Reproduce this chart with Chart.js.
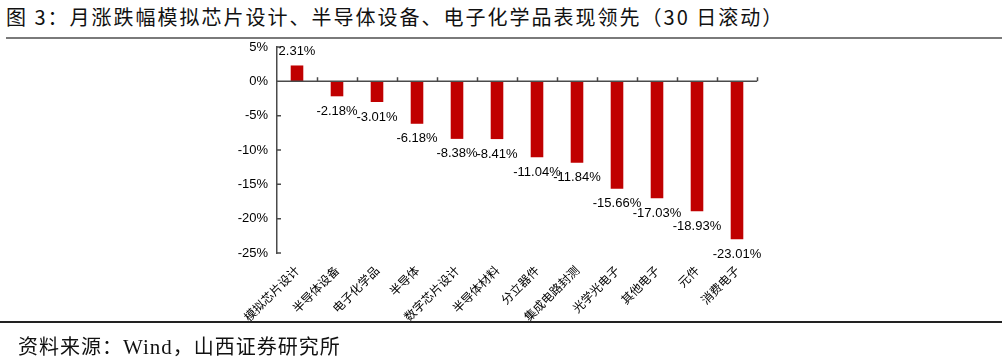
<!DOCTYPE html>
<html>
<head>
<meta charset="utf-8">
<script src="https://cdn.jsdelivr.net/npm/chart.js@4/dist/chart.umd.min.js"></script>
<style>
  html, body { margin: 0; padding: 0; background: #fff; }
  body { width: 1007px; height: 362px; position: relative; overflow: hidden; }
  #title {
    position: absolute; left: 6px; top: 4px;
    font-family: "Noto Sans CJK SC", sans-serif; font-size: 20px; color: #111;
    letter-spacing: 2px; white-space: nowrap; line-height: 26px;
  }
  #topRule { position: absolute; left: 6px; right: 5px; top: 37px; height: 2px; background: #7a7a7a; }
  #bottomRule { position: absolute; left: 0; right: 5px; top: 321px; height: 2px; background: #222; }
  #source {
    position: absolute; left: 18px; top: 333px;
    font-family: "Noto Sans CJK SC", sans-serif; font-size: 20px; color: #111;
    letter-spacing: 1px; white-space: nowrap; line-height: 26px;
  }
  #source .en { font-family: "Liberation Serif", serif; font-size: 21px; }
  #wrap { position: absolute; left: 0; top: 0; width: 1007px; height: 362px; }
</style>
</head>
<body>
<div id="title">图 3：月涨跌幅模拟芯片设计、半导体设备、电子化学品表现领先（30 日滚动）</div>
<div id="topRule"></div>
<div id="wrap"><canvas id="barChart"></canvas></div>
<div id="bottomRule"></div>
<div id="source">资料来源：<span class="en">Wind</span>，山西证券研究所</div>
<script>
// categories and monthly change (%)
const categories = ['模拟芯片设计', '半导体设备', '电子化学品', '半导体', '数字芯片设计', '半导体材料',
  '分立器件', '集成电路封测', '光学光电子', '其他电子', '元件', '消费电子'];
const changes = [2.31, -2.18, -3.01, -6.18, -8.38, -8.41, -11.04, -11.84, -15.66, -17.03, -18.93, -23.01];
const yTicks = [5, 0, -5, -10, -15, -20, -25];

// zero line, inward tick marks and value labels
const decorations = {
  id: 'decorations',
  afterDatasetsDraw(chart) {
    const { ctx, chartArea, scales } = chart;
    const x = scales.x, y = scales.y;
    const y0 = y.getPixelForValue(0);
    ctx.save();
    ctx.strokeStyle = '#4a4a4a';
    ctx.lineWidth = 1.5;
    ctx.beginPath();
    ctx.moveTo(chartArea.left, y0);
    ctx.lineTo(chartArea.right, y0);
    // x ticks at category boundaries, pointing up
    const step = (chartArea.right - chartArea.left) / categories.length;
    for (let i = 1; i <= categories.length; i++) {
      const px = Math.round(chartArea.left + step * i) + 0.5;
      ctx.moveTo(px, y0);
      ctx.lineTo(px, y0 - 4);
    }
    // y ticks pointing right
    yTicks.forEach(v => {
      const py = y.getPixelForValue(v);
      ctx.moveTo(chartArea.left, py);
      ctx.lineTo(chartArea.left + 4, py);
    });
    ctx.stroke();

    ctx.fillStyle = '#000';
    ctx.font = '13px "Liberation Sans", Arial, sans-serif';
    ctx.textAlign = 'center';
    ctx.textBaseline = 'middle';
    const meta = chart.getDatasetMeta(0);
    meta.data.forEach((bar, i) => {
      const v = changes[i];
      const py = v >= 0 ? bar.y - 14 : bar.y + 15;
      ctx.fillText(v.toFixed(2) + '%', bar.x, py);
    });
    ctx.restore();
  }
};

new Chart(document.getElementById('barChart'), {
  type: 'bar',
  data: {
    labels: categories,
    datasets: [{
      data: changes,
      backgroundColor: '#C00000',
      borderWidth: 0,
      categoryPercentage: 1,
      barPercentage: 0.315
    }]
  },
  options: {
    responsive: true,
    maintainAspectRatio: false,
    animation: false,
    layout: { padding: { left: 217, right: 250, top: 47, bottom: 9 } },
    plugins: { legend: { display: false }, tooltip: { enabled: false } },
    scales: {
      x: {
        grid: { display: false, drawTicks: false },
        border: { display: false },
        afterFit: scale => { scale.height = 100; },
        ticks: {
          autoSkip: false,
          maxRotation: 45,
          minRotation: 45,
          padding: 10,
          color: '#000',
          font: { family: '"Noto Sans CJK SC", sans-serif', size: 12 }
        }
      },
      y: {
        min: -25,
        max: 5,
        grid: { display: false, drawTicks: false },
        border: { display: true, color: '#4a4a4a', width: 1.5 },
        afterFit: scale => { scale.width = 60; },
        ticks: {
          stepSize: 5,
          padding: 9,
          color: '#000',
          font: { family: '"Liberation Sans", Arial, sans-serif', size: 13 },
          callback: v => v + '%'
        }
      }
    }
  },
  plugins: [decorations]
});
</script>
</body>
</html>
